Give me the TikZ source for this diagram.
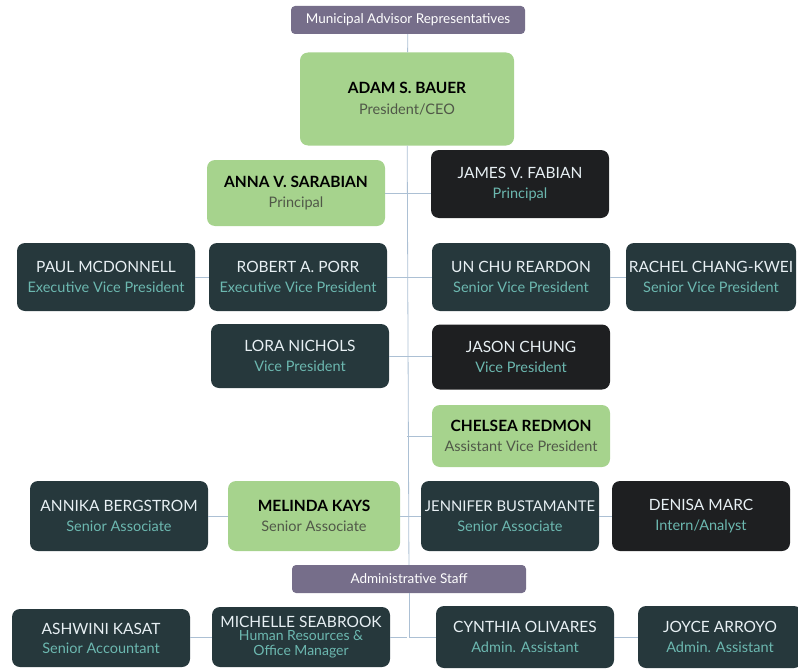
\documentclass[tikz,border=0pt]{standalone}
\usepackage{fontspec}
\setmainfont{Lato}
\usepackage{tikz}
\usetikzlibrary{positioning}
\definecolor{Green-box}{RGB}{166,211,141}
\definecolor{Green-role}{RGB}{80,88,72}
\definecolor{Teal-box}{RGB}{38,56,60}
\definecolor{Black-box}{RGB}{30,31,33}
\definecolor{Purple-box}{RGB}{118,110,138}
\definecolor{Teal-role}{RGB}{108,184,176}
\definecolor{Name-light}{RGB}{232,240,244}
\definecolor{Link}{RGB}{172,192,212}
\newcommand{\role}[1]{{\fontsize{14.5}{15}\selectfont\color{rolecol}#1}}

\tikzset{
  card/.style={rounded corners=8pt, minimum width=178pt, minimum height=68pt, inner sep=1pt,
               align=center, font=\fontsize{15.5}{16}\selectfont},
  greenbox/.style={card, fill=Green-box, text=black, font=\fontsize{15.5}{16}\selectfont\bfseries,
                   execute at begin node=\colorlet{rolecol}{Green-role}},
  tealbox/.style={card, fill=Teal-box, text=Name-light,
                  execute at begin node=\colorlet{rolecol}{Teal-role}},
  blackbox/.style={card, fill=Black-box, text=Name-light,
                   execute at begin node=\colorlet{rolecol}{Teal-role}},
  headbox/.style={rounded corners=4pt, fill=Purple-box, text=white, minimum width=234pt,
                  minimum height=28pt, font=\fontsize{13.5}{15}\selectfont},
  link/.style={draw=Link, line width=0.8pt}
}

\begin{document}
\begin{tikzpicture}[x=1pt, y=-1pt]
  \useasboundingbox (0,0) rectangle (798,669);

  % top of the chart
  \node[headbox] (mar) at (408, 20) {Municipal Advisor Representatives};
  \node[greenbox, minimum width=214pt, minimum height=93pt] (ceo) at (407, 99) {ADAM S. BAUER\\[5pt]\role{\mdseries President/CEO}};

  % principals
  \node[greenbox, minimum height=66pt] (anna)  at (296, 193) {ANNA V. SARABIAN\\[4pt]\role{\mdseries Principal}};
  \node[blackbox]                      (james) at (520, 184) {JAMES V. FABIAN\\[4pt]\role{Principal}};

  % vice presidents
  \node[tealbox]                  (paul)   at (106, 277) {PAUL MCDONNELL\\[4pt]\role{Executive Vice President}};
  \node[tealbox]                  (robert) at (298, 277) {ROBERT A. PORR\\[4pt]\role{Executive Vice President}};
  \node[tealbox]                  (unchu)  at (521, 277) {UN CHU REARDON\\[4pt]\role{Senior Vice President}};
  \node[tealbox, minimum width=170pt] (rachel) at (711, 277) {RACHEL CHANG-KWEI\\[4pt]\role{Senior Vice President}};
  \node[tealbox, minimum height=64pt]  (lora)  at (300, 356) {LORA NICHOLS\\[4pt]\role{Vice President}};
  \node[blackbox, minimum height=65pt] (jason) at (521, 357) {JASON CHUNG\\[4pt]\role{Vice President}};
  \node[greenbox, minimum height=62pt] (chelsea) at (521, 436) {CHELSEA REDMON\\[4pt]\role{\mdseries Assistant Vice President}};

  % associates
  \node[tealbox, minimum height=70pt]  (annika)   at (119, 516) {ANNIKA BERGSTROM\\[4pt]\role{Senior Associate}};
  \node[greenbox, minimum width=172pt, minimum height=70pt] (melinda) at (314, 516) {MELINDA KAYS\\[4pt]\role{\mdseries Senior Associate}};
  \node[tealbox, minimum height=70pt, font=\fontsize{14.8}{16}\selectfont] (jennifer) at (510, 516) {JENNIFER BUSTAMANTE\\[4pt]\role{Senior Associate}};
  \node[blackbox, minimum height=70pt] (denisa)   at (701, 516) {DENISA MARC\\[4pt]\role{Intern/Analyst}};

  % administrative staff
  \node[headbox] (adm) at (409, 579) {Administrative Staff};
  \node[tealbox, minimum height=58pt] (ashwini)  at (101, 638) {ASHWINI KASAT\\[3pt]\role{Senior Accountant}};
  \node[tealbox, minimum height=60pt] (michelle) at (301, 637) {MICHELLE SEABROOK\\[-3pt]{\fontsize{14}{13}\selectfont\color{Teal-role}Human Resources \&}\\[-1pt]{\fontsize{14}{13}\selectfont\color{Teal-role}Office Manager}};
  \node[tealbox, minimum height=62pt] (cynthia)  at (525, 637) {CYNTHIA OLIVARES\\[4pt]\role{Admin. Assistant}};
  \node[tealbox, minimum width=164pt, minimum height=62pt] (joyce) at (720, 637) {JOYCE ARROYO\\[4pt]\role{Admin. Assistant}};

  % reporting lines
  \draw[link] (mar) -- (ceo);
  \draw[link] (ceo) -- (adm);
  \draw[link] (adm) |- (cynthia);
  \draw[link] (anna) -- (anna -| james.west);
  \draw[link] (paul) -- (robert);
  \draw[link] (robert) -- (unchu);
  \draw[link] (unchu) -- (rachel);
  \draw[link] (lora) -- (jason);
  \draw[link] (chelsea.west) -- (chelsea.west -| ceo.south);
  \draw[link] (annika) -- (melinda);
  \draw[link] (melinda) -- (jennifer);
  \draw[link] (jennifer) -- (denisa);
  \draw[link] (ashwini) -- (michelle);
  \draw[link] (michelle) -- (michelle -| ceo.south);
  \draw[link] (cynthia) -- (joyce);
\end{tikzpicture}
\end{document}
